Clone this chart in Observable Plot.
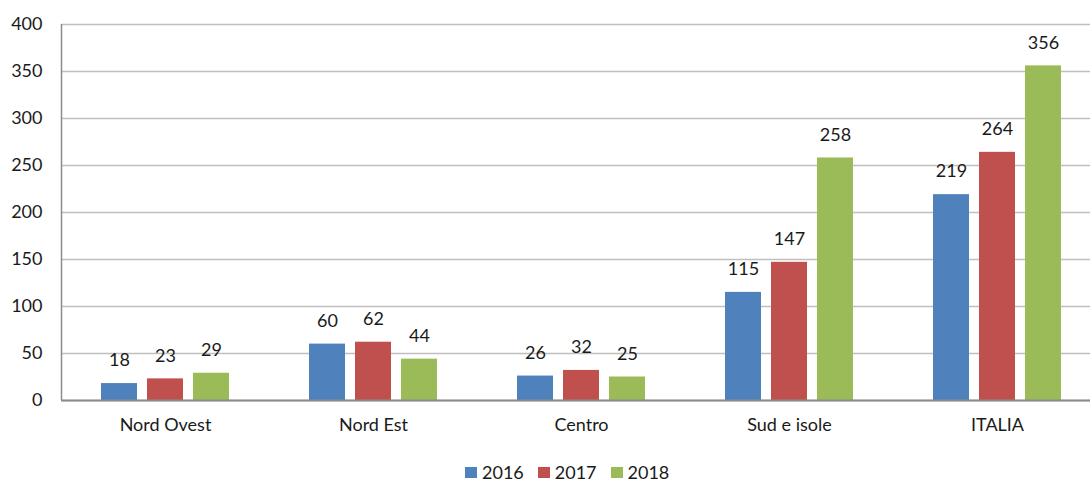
<!DOCTYPE html>
<html>
<head>
<meta charset="utf-8">
<script src="https://cdn.jsdelivr.net/npm/d3@7"></script>
<script src="https://cdn.jsdelivr.net/npm/@observablehq/plot@0.6"></script>
<style>
  html, body { margin: 0; padding: 0; background: #fff; overflow: hidden; width: 1090px; height: 481px; }
  body { position: relative; font-family: Lato, "Open Sans", sans-serif; color: #1a1a1a; }
  #chart { position: absolute; left: 0; top: 0; width: 1101px; }
  #chart svg { max-width: none !important; }
  #legend { position: absolute; top: 465px; left: 465px; display: flex; align-items: center; font-size: 18px; line-height: 14px; white-space: nowrap; }
  .item { display: flex; align-items: center; margin-right: 14px; }
  .sw { width: 12px; height: 11px; margin-right: 5px; }
</style>
</head>
<body>
<div id="chart"></div>
<div id="legend"></div>
<script>
const regions = ["Nord Ovest", "Nord Est", "Centro", "Sud e isole", "ITALIA"];
const years = ["2016", "2017", "2018"];
const v2016 = [18, 60, 26, 115, 219];
const v2017 = [23, 62, 32, 147, 264];
const v2018 = [29, 44, 25, 258, 356];
const yTicks = [0, 50, 100, 150, 200, 250, 300, 350, 400];
const colors = ["#4F81BD", "#C0504D", "#9BBB59"];

const series = [v2016, v2017, v2018];
const data = [];
years.forEach((y, j) => regions.forEach((r, i) => data.push({region: r, year: y, value: series[j][i]})));

// bar placement inside each 208px band (36px bars, 10px gaps)
const insetsL = [40, 86, 132];
const insetsR = [132, 86, 40];
const offsets = [-46, 0, 46];

const marks = [
  Plot.gridY(yTicks, {stroke: "#bfbfbf", strokeOpacity: 1, strokeWidth: 1.5})
];
years.forEach((y, j) => {
  const d = data.filter(e => e.year === y);
  marks.push(Plot.barY(d, {x: "region", y: "value", fill: colors[j], insetLeft: insetsL[j], insetRight: insetsR[j]}));
  marks.push(Plot.text(d, {x: "region", y: "value", text: e => String(e.value), dx: offsets[j], dy: -23, fontSize: 18, fill: "#1a1a1a"}));
});
marks.push(Plot.ruleY([0], {stroke: "#8c8c8c", strokeWidth: 2}));
marks.push(Plot.ruleX([regions[0]], {dx: -104, y1: 0, y2: 400, stroke: "#8c8c8c", strokeWidth: 1.5}));
marks.push(Plot.axisY(yTicks, {tickSize: 0, tickPadding: 19, fontSize: 18, label: null, fill: "#1a1a1a"}));
marks.push(Plot.axisX({tickSize: 0, tickPadding: 18, fontSize: 18, label: null, fill: "#1a1a1a"}));

const chart = Plot.plot({
  width: 1101,
  height: 440,
  marginLeft: 61,
  marginRight: 0,
  marginTop: 24,
  marginBottom: 40,
  style: {fontFamily: "Lato, 'Open Sans', sans-serif", fontSize: "18px", color: "#1a1a1a", background: "#fff", maxWidth: "none"},
  x: {domain: regions, padding: 0},
  y: {domain: [0, 400]},
  marks
});
document.getElementById("chart").appendChild(chart);

const legend = document.getElementById("legend");
years.forEach((y, j) => {
  const it = document.createElement("div");
  it.className = "item";
  it.innerHTML = `<span class="sw" style="background:${colors[j]}"></span><span>${y}</span>`;
  legend.appendChild(it);
});
</script>
</body>
</html>
